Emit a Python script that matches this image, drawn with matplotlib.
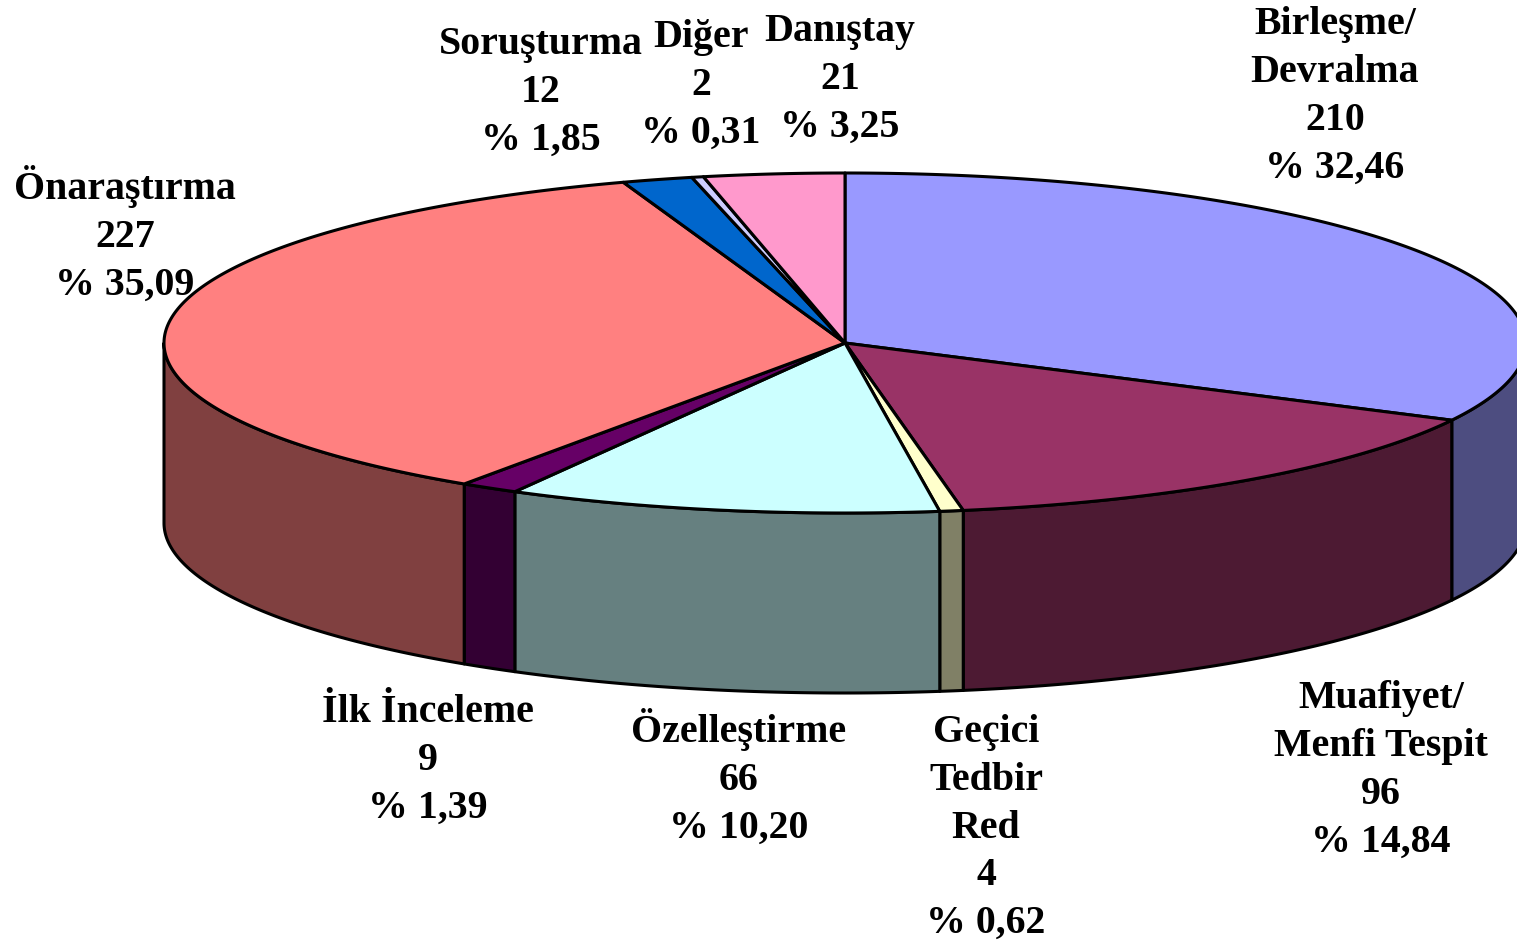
import numpy as np
import matplotlib
matplotlib.use("Agg")
import matplotlib.pyplot as plt
from matplotlib.patches import Polygon

# slices, clockwise from 12 o'clock
names = ["Birleşme/\nDevralma", "Muafiyet/\nMenfi Tespit", "Geçici\nTedbir\nRed", "Özelleştirme",
         "İlk İnceleme", "Önaraştırma", "Soruşturma", "Diğer", "Danıştay"]
counts = [210, 96, 4, 66, 9, 227, 12, 2, 21]
percents = ["32,46", "14,84", "0,62", "10,20", "1,39", "35,09", "1,85", "0,31", "3,25"]
top_colors = ["#9999FF", "#993366", "#FFFFCC", "#CCFFFF", "#660066", "#FF8080", "#0066CC", "#CCCCFF", "#FF99CC"]
side_colors = ["#4D4D80", "#4D1A33", "#808066", "#668080", "#330033", "#804040", "#003366", "#666680", "#804D66"]

# label centre (x) and first line baseline (y) in pixels
label_pos = [(1335, 34), (1381, 708), (986, 742), (739, 742), (428, 722), (125, 199), (541, 54), (701, 47), (840, 41)]

# pie geometry in pixels
CX, CY = 845, 343
RX, RY = 681, 170
DEPTH = 180
LINE_H = 47.8


def arc(t0, t1, dy=0):
    # t is the angle clockwise from the top of the ellipse
    t = np.linspace(t0, t1, max(int(abs(t1 - t0) * 200), 2))
    return np.column_stack([CX + RX * np.sin(t), CY - RY * np.cos(t) + dy])


fig = plt.figure(figsize=(15.17, 9.44), dpi=100)
ax = fig.add_axes([0, 0, 1, 1])
ax.set_xlim(0, 1517)
ax.set_ylim(944, 0)
ax.axis("off")

# the source chart snaps slice edges to whole degrees
edges = np.radians(np.round(np.concatenate([[0], np.cumsum(counts)]) / sum(counts) * 360))

# front wall first, only the part between 3 and 9 o'clock shows
for i in range(len(counts)):
    t0 = max(edges[i], np.pi / 2)
    t1 = min(edges[i + 1], 3 * np.pi / 2)
    if t1 > t0:
        pts = np.vstack([arc(t0, t1), arc(t1, t0, DEPTH)])
        ax.add_patch(Polygon(pts, closed=True, fc=side_colors[i], ec="black", lw=2.2, joinstyle="round"))

# top face
for i in range(len(counts)):
    pts = np.vstack([[[CX, CY]], arc(edges[i], edges[i + 1])])
    ax.add_patch(Polygon(pts, closed=True, fc=top_colors[i], ec="black", lw=2.2, joinstyle="round"))

for i in range(len(counts)):
    lines = names[i].split("\n") + [str(counts[i]), "% " + percents[i]]
    x, y = label_pos[i]
    for j, line in enumerate(lines):
        ax.text(x, y + j * LINE_H, line, ha="center", va="baseline", color="black",
                family="Liberation Serif", weight="bold", fontsize=28.7)

fig.savefig("out.png", dpi=100)
